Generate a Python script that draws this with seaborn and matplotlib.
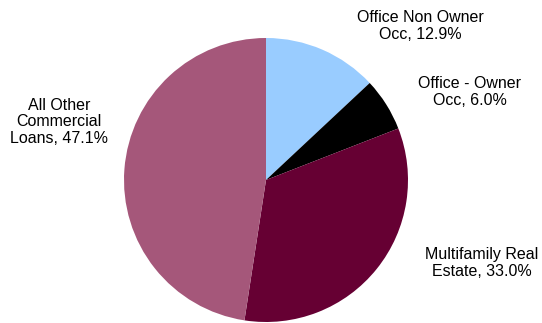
import matplotlib
matplotlib.use("Agg")
import matplotlib.pyplot as plt
import seaborn as sns

categories = ["Office Non Owner\nOcc", "Office - Owner\nOcc", "Multifamily Real\nEstate", "All Other\nCommercial\nLoans"]
values = [12.9, 6.0, 33.0, 47.1]
colors = ["#99CCFF", "#000000", "#660033", "#A5577A"]

sns.set_style("white")
plt.rcParams['font.family'] = ['Liberation Sans', 'DejaVu Sans']

fig = plt.figure(figsize=(5.42, 3.23), dpi=100)
ax = fig.add_axes([0, 0, 1, 1])

ax.pie(values, colors=colors, startangle=90, counterclock=False,
       center=(266, 143), radius=142, frame=True,
       wedgeprops=dict(linewidth=0))
ax.set_xlim(0, 542)
ax.set_ylim(0, 323)
ax.set_aspect('equal')
ax.axis('off')

label_pos = [(420, 297), (470, 231), (482, 60), (59, 201)]
for cat, v, (x, y) in zip(categories, values, label_pos):
    ax.text(x, y, f"{cat}, {v:.1f}%", ha='center', va='center',
            fontsize=11.5, linespacing=1.12, color='black')

fig.savefig("out.png", dpi=100)
